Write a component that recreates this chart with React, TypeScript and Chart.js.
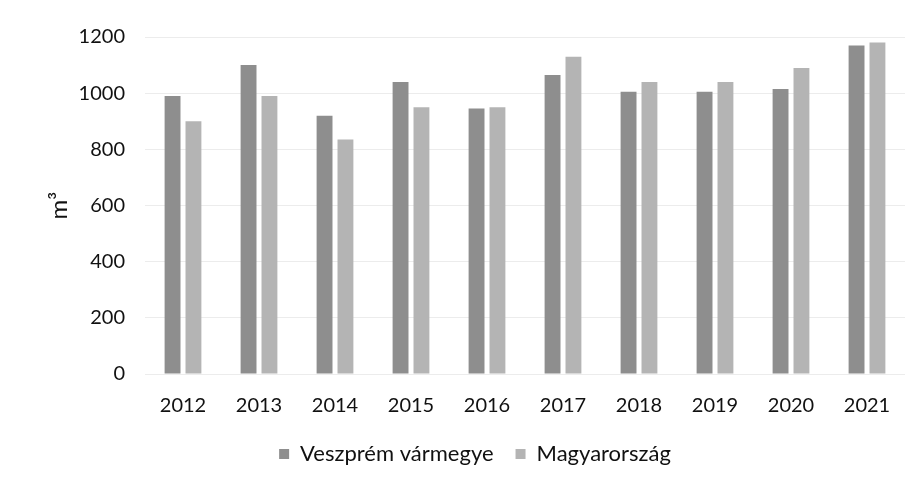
import React, { useEffect, useRef } from "react";
import { Chart, registerables } from "chart.js";

Chart.register(...registerables);

const years = ["2012", "2013", "2014", "2015", "2016", "2017", "2018", "2019", "2020", "2021"];
const veszprem = [990, 1100, 920, 1040, 945, 1065, 1005, 1005, 1015, 1170];
const magyarorszag = [900, 990, 835, 950, 950, 1130, 1040, 1040, 1090, 1180];
const seriesNames = ["Veszprém vármegye", "Magyarország"];
const yTicks = [0, 200, 400, 600, 800, 1000, 1200];

const FONT = "Lato, 'Open Sans', sans-serif";

export default function App() {
  const ref = useRef<HTMLCanvasElement | null>(null);

  useEffect(() => {
    if (!ref.current) return;
    const chart = new Chart(ref.current, {
      type: "bar",
      data: {
        labels: years,
        datasets: [
          {
            label: seriesNames[0],
            data: veszprem,
            backgroundColor: "#8e8e8e",
            categoryPercentage: 0.55,
            barPercentage: 0.76,
          },
          {
            label: seriesNames[1],
            data: magyarorszag,
            backgroundColor: "#b4b4b4",
            categoryPercentage: 0.55,
            barPercentage: 0.76,
          },
        ],
      },
      options: {
        animation: false,
        responsive: false,
        maintainAspectRatio: false,
        layout: { padding: { left: 45, right: 12, top: 37, bottom: 6 } },
        plugins: {
          tooltip: { enabled: false },
          legend: {
            position: "bottom",
            labels: {
              boxWidth: 10,
              boxHeight: 10,
              padding: 22,
              color: "#111",
              font: { family: FONT, size: 22 },
            },
          },
        },
        scales: {
          x: {
            grid: { display: false, drawTicks: false },
            border: { display: false },
            afterFit: (scale: any) => {
              scale.height = 47;
            },
            ticks: {
              color: "#111",
              padding: 20,
              font: { family: FONT, size: 20 },
              maxRotation: 0,
            },
          },
          y: {
            min: 0,
            max: 1200,
            afterBuildTicks: (scale: any) => {
              scale.ticks = yTicks.map((v) => ({ value: v }));
            },
            afterFit: (scale: any) => {
              scale.width = 100;
            },
            grid: { color: "#ececec", drawTicks: false },
            border: { display: false },
            ticks: {
              color: "#111",
              padding: 20,
              font: { family: FONT, size: 20 },
              callback: (v: any) => String(v),
            },
            title: {
              display: true,
              text: "m³",
              color: "#111",
              padding: 0,
              font: { family: FONT, size: 24 },
            },
          },
        },
      },
    });
    return () => chart.destroy();
  }, []);

  return (
    <div style={{ position: "fixed", left: 0, top: 0, width: 917, height: 481, background: "#fff" }}>
      <canvas ref={ref} width={917} height={481} style={{ width: 917, height: 481 }} />
    </div>
  );
}
